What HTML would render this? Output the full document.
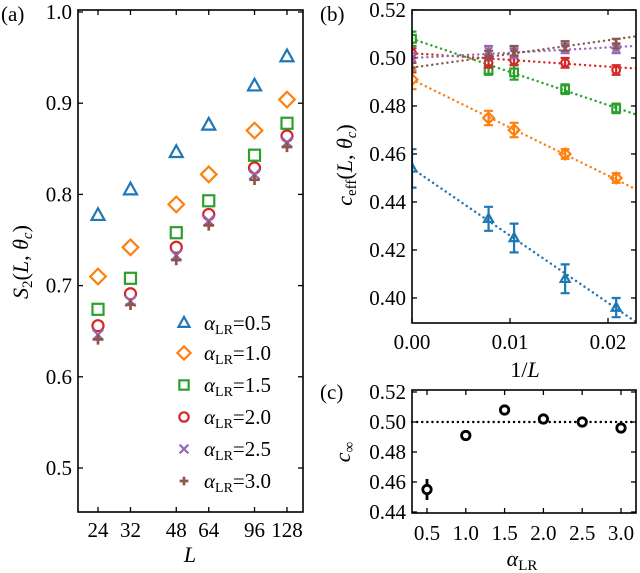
<!DOCTYPE html>
<html><head><meta charset="utf-8"><style>
body{margin:0;background:#fff;}
svg{display:block;font-family:"Liberation Serif",serif;}
</style></head><body>
<svg id="fig" width="640" height="573" viewBox="0 0 640 573"></svg>
<script>
// Panel (a) data
const aLs = [24, 32, 48, 64, 96, 128];
const alphaLabels = ["0.5", "1.0", "1.5", "2.0", "2.5", "3.0"];
const s2Blue   = [0.777, 0.805, 0.846, 0.876, 0.919, 0.951];
const s2Orange = [0.710, 0.742, 0.789, 0.822, 0.870, 0.904];
const s2Green  = [0.674, 0.708, 0.758, 0.793, 0.843, 0.878];
const s2Red    = [0.656, 0.691, 0.742, 0.778, 0.829, 0.864];
const s2Purple = [0.646, 0.683, 0.733, 0.771, 0.822, 0.857];
const s2Brown  = [0.641, 0.679, 0.728, 0.766, 0.816, 0.852];
const aYTicks = [0.5, 0.6, 0.7, 0.8, 0.9, 1.0];
// Panel (b) data
const bX = [0, 1/128, 1/96, 1/64, 1/48];
const cBlue   = [0.454, 0.433, 0.425, 0.408, 0.396];
const cOrange = [0.491, 0.475, 0.470, 0.460, 0.450];
const cGreen  = [0.508, 0.495, 0.494, 0.487, 0.479];
const cRed    = [0.502, 0.498, 0.499, 0.498, 0.495];
const cPurple = [0.500, 0.503, 0.502, 0.504, 0.504];
const cBrown  = [0.496, 0.501, 0.503, 0.505, 0.506];
const eBlue   = [0.008, 0.005, 0.006, 0.006, 0.004];
const eOrange = [0.004, 0.003, 0.003, 0.002, 0.002];
const eGreen  = [0.003, 0.002, 0.003, 0.002, 0.002];
const eRed    = [0.002, 0.002, 0.002, 0.002, 0.002];
const ePurple = [0.002, 0.002, 0.002, 0.002, 0.002];
const eBrown  = [0.002, 0.002, 0.002, 0.002, 0.002];
const fitIntercepts = [0.454, 0.491, 0.508, 0.502, 0.500, 0.496];
const fitSlopes = [-2.8, -2.0, -1.38, -0.28, 0.22, 0.57];
const bYTicks = [0.40, 0.42, 0.44, 0.46, 0.48, 0.50, 0.52];
const bXTicks = [0.00, 0.01, 0.02];
// Panel (c) data
const cAlphas = [0.5, 1.0, 1.5, 2.0, 2.5, 3.0];
const cInf = [0.455, 0.491, 0.508, 0.502, 0.500, 0.496];
const cInfErr = [0.007, 0.003, 0.002, 0.003, 0.002, 0.003];
const cYTicks = [0.44, 0.46, 0.48, 0.50, 0.52];

const colors = ["#1f77b4", "#ff7f0e", "#2ca02c", "#d62728", "#9467bd", "#8c564b"];
const markers = ["tri", "dia", "sq", "circ", "x", "plus"];
const aSeries = [s2Blue, s2Orange, s2Green, s2Red, s2Purple, s2Brown];
const bSeries = [cBlue, cOrange, cGreen, cRed, cPurple, cBrown];
const bErrs = [eBlue, eOrange, eGreen, eRed, ePurple, eBrown];
const FS = 21;

const svg = document.getElementById('fig');
const NS = 'http://www.w3.org/2000/svg';
function mk(tag, attrs, parent) {
  const e = document.createElementNS(NS, tag);
  for (const k in attrs) e.setAttribute(k, attrs[k]);
  (parent || svg).appendChild(e);
  return e;
}
function txt(x, y, s, size, anchor, parent) {
  const t = mk('text', {x: x, y: y, 'font-size': size, 'text-anchor': anchor || 'middle', fill: '#000'}, parent);
  t.textContent = s;
  return t;
}
function marker(g, kind, x, y, col, r) {
  const sw = 2.2;
  if (kind === 'tri') mk('polygon', {points: `${x},${y-r*1.1} ${x-r},${y+r*0.7} ${x+r},${y+r*0.7}`, fill: 'none', stroke: col, 'stroke-width': sw}, g);
  else if (kind === 'dia') mk('polygon', {points: `${x},${y-r*1.2} ${x+r*1.2},${y} ${x},${y+r*1.2} ${x-r*1.2},${y}`, fill: 'none', stroke: col, 'stroke-width': sw}, g);
  else if (kind === 'sq') mk('rect', {x: x-r*0.85, y: y-r*0.85, width: r*1.7, height: r*1.7, fill: 'none', stroke: col, 'stroke-width': sw}, g);
  else if (kind === 'circ') mk('circle', {cx: x, cy: y, r: r*0.85, fill: 'none', stroke: col, 'stroke-width': sw}, g);
  else if (kind === 'x') mk('path', {d: `M${x-r*0.8},${y-r*0.8}L${x+r*0.8},${y+r*0.8}M${x-r*0.8},${y+r*0.8}L${x+r*0.8},${y-r*0.8}`, stroke: col, 'stroke-width': sw}, g);
  else if (kind === 'plus') mk('path', {d: `M${x-r*0.8},${y}L${x+r*0.8},${y}M${x},${y-r*0.8}L${x},${y+r*0.8}`, stroke: col, 'stroke-width': sw+0.5}, g);
}
function frame(l, t, r, b, name) {
  const f = mk('rect', {x: l, y: t, width: r-l, height: b-t, fill: 'none', stroke: '#000', 'stroke-width': 1.6});
  
  
}

// ---------- Panel (a) ----------
const A = {l: 78, r: 303, t: 10, b: 512};
const ax = L => 98 + (Math.log2(L) - Math.log2(24)) * 78.26;
const ay = v => 12 + (1.0 - v) * 912;
const ga = mk('g', {});


aYTicks.forEach(v => {
  const y = ay(v);
  mk('line', {x1: A.l, x2: A.l+5, y1: y, y2: y, stroke: '#000', 'stroke-width': 1.3}, ga);
  mk('line', {x1: A.r, x2: A.r-5, y1: y, y2: y, stroke: '#000', 'stroke-width': 1.3}, ga);
  const t = txt(A.l-6, y+7, v.toFixed(1), FS, 'end', ga);
  
  
});
aLs.forEach(L => {
  const x = ax(L);
  mk('line', {x1: x, x2: x, y1: A.b, y2: A.b-5, stroke: '#000', 'stroke-width': 1.3}, ga);
  mk('line', {x1: x, x2: x, y1: A.t, y2: A.t+5, stroke: '#000', 'stroke-width': 1.3}, ga);
  const t = txt(x, A.b+25, String(L), FS, 'middle', ga);
  
  
});
aSeries.forEach((s, i) => {
  const g = mk('g', {}, ga);
  
  
  s.forEach((v, j) => marker(g, markers[i], ax(aLs[j]), ay(v), colors[i], 6.5));
});
frame(A.l, A.t, A.r, A.b, 'panel-a-frame');
const legY = [323, 353, 385, 417, 449, 481];
const leg = mk('g', {});


alphaLabels.forEach((lab, i) => {
  const g = mk('g', {}, leg);
  
  
  marker(g, markers[i], 184, legY[i], colors[i], 5.5);
  const t = mk('text', {x: 204, y: legY[i]+7, 'font-size': FS, fill: '#000'}, g);
  t.innerHTML = '<tspan font-style="italic">α</tspan><tspan font-size="14" dy="4">LR</tspan><tspan dy="-4">=' + lab + '</tspan>';
});
let t1 = txt(190, 562, 'L', 22, 'middle'); t1.setAttribute('font-style', 'italic');
 
let ya = mk('text', {x: 0, y: 0, 'font-size': 22, 'text-anchor': 'middle', transform: 'translate(28,262) rotate(-90)', fill: '#000'});
ya.innerHTML = '<tspan font-style="italic">S</tspan><tspan font-size="15" dy="4">2</tspan><tspan dy="-4">(</tspan><tspan font-style="italic">L</tspan>, <tspan font-style="italic">θ</tspan><tspan font-size="15" dy="4" font-style="italic">c</tspan><tspan dy="-4">)</tspan>';
 
let la = txt(1, 21, '(a)', FS, 'start');  

// ---------- Panel (b) ----------
const B = {l: 412, r: 636, t: 10, b: 323};
const bx = v => 412 + v * 9800;
const by = v => 298 - (v - 0.40) * 2400;
const gb = mk('g', {});


const clip = mk('clipPath', {id: 'cb'}); mk('rect', {x: B.l, y: B.t, width: B.r-B.l, height: B.b-B.t}, clip);
bYTicks.forEach(v => {
  const y = by(v);
  mk('line', {x1: B.l, x2: B.l+5, y1: y, y2: y, stroke: '#000', 'stroke-width': 1.3}, gb);
  mk('line', {x1: B.r, x2: B.r-5, y1: y, y2: y, stroke: '#000', 'stroke-width': 1.3}, gb);
  const t = txt(B.l-6, y+7, v.toFixed(2), FS, 'end', gb);
   
});
bXTicks.forEach(v => {
  const x = bx(v);
  mk('line', {x1: x, x2: x, y1: B.b, y2: B.b-5, stroke: '#000', 'stroke-width': 1.3}, gb);
  mk('line', {x1: x, x2: x, y1: B.t, y2: B.t+5, stroke: '#000', 'stroke-width': 1.3}, gb);
  const t = txt(x, B.b+26, v.toFixed(2), FS, 'middle', gb);
   
});
const xEnd = (B.r - 412) / 9800;
bSeries.forEach((s, i) => {
  const g = mk('g', {'clip-path': 'url(#cb)'}, gb);
  
  
  const fl = mk('line', {x1: bx(0), y1: by(fitIntercepts[i]), x2: bx(xEnd), y2: by(fitIntercepts[i] + fitSlopes[i]*xEnd), stroke: colors[i], 'stroke-width': 2.4, 'stroke-dasharray': '0.1 5', 'stroke-linecap': 'round'}, g);
   
  s.forEach((v, j) => {
    const x = bx(bX[j]), e = bErrs[i][j];
    mk('path', {d: `M${x},${by(v-e)}L${x},${by(v+e)}M${x-4.5},${by(v-e)}L${x+4.5},${by(v-e)}M${x-4.5},${by(v+e)}L${x+4.5},${by(v+e)}`, stroke: colors[i], 'stroke-width': 2.2}, g);
    marker(g, markers[i], x, by(v), colors[i], 4.5);
  });
});
frame(B.l, B.t, B.r, B.b, 'panel-b-frame');
let xb = mk('text', {x: 525, y: 377, 'font-size': 22, 'text-anchor': 'middle', fill: '#000'});
xb.innerHTML = '1/<tspan font-style="italic">L</tspan>';
 
let yb = mk('text', {x: 0, y: 0, 'font-size': 22, 'text-anchor': 'middle', transform: 'translate(352,165) rotate(-90)', fill: '#000'});
yb.innerHTML = '<tspan font-style="italic">c</tspan><tspan font-size="15" dy="4">eff</tspan><tspan dy="-4">(</tspan><tspan font-style="italic">L</tspan>, <tspan font-style="italic">θ</tspan><tspan font-size="15" dy="4" font-style="italic">c</tspan><tspan dy="-4">)</tspan>';
 
let lb = txt(320, 21, '(b)', FS, 'start');  

// ---------- Panel (c) ----------
const C = {l: 412, r: 636, t: 390, b: 513};
const cx = a => 427 + (a - 0.5) * 77.6;
const cy = v => 512 - (v - 0.44) * 1500;
const gc = mk('g', {});


cYTicks.forEach(v => {
  const y = cy(v);
  mk('line', {x1: C.l, x2: C.l+5, y1: y, y2: y, stroke: '#000', 'stroke-width': 1.3}, gc);
  mk('line', {x1: C.r, x2: C.r-5, y1: y, y2: y, stroke: '#000', 'stroke-width': 1.3}, gc);
  const t = txt(C.l-6, y+7, v.toFixed(2), FS, 'end', gc);
   
});
cAlphas.forEach(a => {
  const x = cx(a);
  mk('line', {x1: x, x2: x, y1: C.b, y2: C.b-5, stroke: '#000', 'stroke-width': 1.3}, gc);
  mk('line', {x1: x, x2: x, y1: C.t, y2: C.t+5, stroke: '#000', 'stroke-width': 1.3}, gc);
  const t = txt(x, C.b+27, a.toFixed(1), FS, 'middle', gc);
   
});
const ref = mk('line', {x1: C.l, x2: C.r, y1: cy(0.5), y2: cy(0.5), stroke: '#000', 'stroke-width': 2.4, 'stroke-dasharray': '0.1 5', 'stroke-linecap': 'round'}, gc);
 
cInf.forEach((v, i) => {
  const x = cx(cAlphas[i]), e = cInfErr[i];
  const p = mk('g', {}, gc);
   
  mk('line', {x1: x, x2: x, y1: cy(v-e), y2: cy(v+e), stroke: '#000', 'stroke-width': 2.8}, p);
  mk('circle', {cx: x, cy: cy(v), r: 4.2, fill: '#fff', stroke: '#000', 'stroke-width': 2.8}, p);
});
frame(C.l, C.t, C.r, C.b, 'panel-c-frame');
let xc = mk('text', {x: 522, y: 566, 'font-size': 22, 'text-anchor': 'middle', fill: '#000'});
xc.innerHTML = '<tspan font-style="italic">α</tspan><tspan font-size="15" dy="4">LR</tspan>';
 
let yc = mk('text', {x: 0, y: 0, 'font-size': 22, 'text-anchor': 'middle', transform: 'translate(350,452) rotate(-90)', fill: '#000'});
yc.innerHTML = '<tspan font-style="italic">c</tspan><tspan font-size="15" dy="4">∞</tspan>';
 
let lc = txt(320, 399, '(c)', FS, 'start');  
</script>
</body></html>
